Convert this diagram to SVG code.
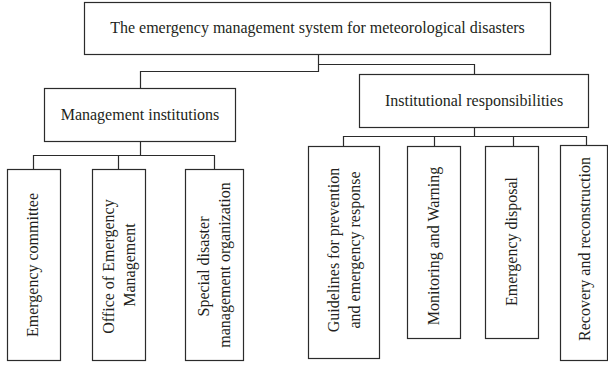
<svg xmlns="http://www.w3.org/2000/svg" width="608" height="368" viewBox="0 0 608 368">
<style>
  rect { fill: #ffffff; stroke: #2b2b2b; stroke-width: 1.2; }
  .c { fill: none; stroke: #2b2b2b; stroke-width: 1.2; }
  text { font-family: "Liberation Serif", "Times New Roman", serif; font-size: 16px; fill: #231f20; text-anchor: middle; }
</style>
<rect x="0" y="0" width="608" height="368" style="stroke:none;fill:#ffffff"/>
<g id="connectors">
  <path class="c" d="M318.5,54.5 V71.5 H140.5 V88.5"/>
  <path class="c" d="M318.5,64.5 H474.5 V74.5"/>
  <path class="c" d="M140.5,141.5 V155.5 M33.5,169.5 V155.5 H214.5 V169.5 M118.5,155.5 V169.5"/>
  <path class="c" d="M474.5,127.5 V136.5 M343.5,146.5 V136.5 H586.5 V145.5 M434.5,136.5 V146.5 M513.5,136.5 V146.5"/>
</g>
<g id="root">
  <rect x="84.5" y="2.5" width="466" height="52"/>
  <text x="317.5" y="32.5">The emergency management system for meteorological disasters</text>
</g>
<g id="management">
  <rect x="44.5" y="88.5" width="191" height="53"/>
  <text x="140" y="120">Management institutions</text>
</g>
<g id="responsibilities">
  <rect x="359.5" y="74.5" width="229" height="53"/>
  <text x="474" y="106">Institutional responsibilities</text>
</g>
<g id="emergency-committee">
  <rect x="7.5" y="169.5" width="53" height="191"/>
  <text transform="translate(37.5,265) rotate(-90)">Emergency committee</text>
</g>
<g id="office-emergency-management">
  <rect x="92.5" y="169.5" width="53" height="191"/>
  <text transform="translate(113.5,266.5) rotate(-90)">Office of Emergency</text>
  <text transform="translate(135,265) rotate(-90)">Management</text>
</g>
<g id="special-disaster">
  <rect x="185.5" y="169.5" width="58" height="191"/>
  <text transform="translate(208.5,266.5) rotate(-90)">Special disaster</text>
  <text transform="translate(230,265) rotate(-90)">management organization</text>
</g>
<g id="guidelines">
  <rect x="308.5" y="146.5" width="71" height="212"/>
  <text transform="translate(338.5,250) rotate(-90)">Guidelines for prevention</text>
  <text transform="translate(360,250) rotate(-90)">and emergency response</text>
</g>
<g id="monitoring">
  <rect x="407.5" y="146.5" width="53" height="192"/>
  <text transform="translate(438.5,246) rotate(-90)">Monitoring and Warning</text>
</g>
<g id="emergency-disposal">
  <rect x="485.5" y="146.5" width="53" height="192"/>
  <text transform="translate(516.5,241.5) rotate(-90)">Emergency disposal</text>
</g>
<g id="recovery">
  <rect x="560.5" y="145.5" width="47" height="215"/>
  <text transform="translate(590,249) rotate(-90)">Recovery and reconstruction</text>
</g>
</svg>
